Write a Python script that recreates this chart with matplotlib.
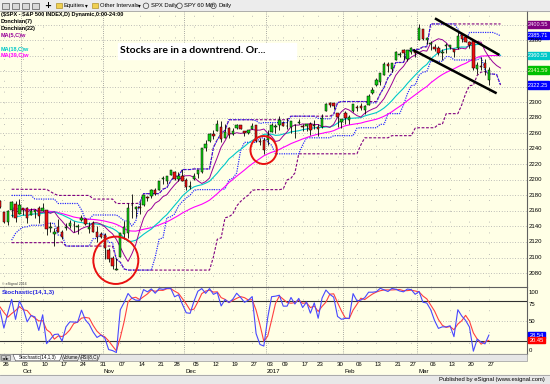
import matplotlib
matplotlib.use('Agg')
import matplotlib.pyplot as plt
from matplotlib.patches import Rectangle, Ellipse, Polygon
import numpy as np
import pandas as pd

W, H = 550, 384
CREAM = '#FFFFE6'

# ---------------- data ----------------
# warm-up bars (before the first visible bar) for the moving averages / channels / stochastic
prior_closes = [2170.84, 2157.03, 2163.79, 2164.25, 2182.87, 2180.89, 2181.74, 2175.49,
                2185.79, 2184.05, 2190.15, 2178.15, 2182.22, 2187.02, 2183.87, 2182.64,
                2186.90, 2175.44, 2172.47, 2169.04, 2180.38, 2176.12, 2170.95, 2170.86,
                2179.98, 2186.48, 2186.16, 2181.30, 2127.81, 2159.04, 2127.02, 2125.77,
                2147.26, 2139.16, 2139.12, 2139.76, 2163.12, 2177.18]
prior_highs = [2186.66, 2179.00, 2187.94, 2183.48, 2182.24, 2175.13, 2173.56, 2184.87,
               2186.57, 2187.87, 2184.94, 2181.99, 2163.30, 2150.47, 2141.33, 2151.31,
               2146.48, 2153.61, 2150.80, 2165.11, 2179.99]
prior_lows = [2171.25, 2169.74, 2160.39, 2170.19, 2170.41, 2161.61, 2157.09, 2173.59,
              2175.10, 2179.07, 2177.85, 2127.81, 2119.12, 2120.27, 2119.90, 2122.36,
              2131.20, 2135.91, 2139.17, 2139.57, 2170.94]

opens = [2173.29, 2158.54, 2146.04, 2161.85, 2168.90, 2156.51, 2164.33, 2163.37, 2155.15, 2158.22,
         2164.19, 2160.39, 2161.35, 2137.67, 2130.26, 2139.68, 2132.95, 2138.31, 2140.81, 2142.51,
         2139.43, 2148.50, 2149.72, 2136.97, 2144.06, 2132.23, 2129.78, 2128.68, 2109.43, 2098.80,
         2083.79, 2100.59, 2129.92, 2131.56, 2167.49, 2162.71, 2165.64, 2168.29, 2177.53, 2178.61,
         2186.85, 2186.43, 2201.56, 2198.55, 2206.27, 2210.21, 2200.76, 2204.97, 2200.17, 2191.12,
         2200.65, 2207.26, 2210.72, 2241.13, 2249.73, 2258.83, 2263.32, 2268.35, 2253.77, 2266.81,
         2259.24, 2266.50, 2270.54, 2262.93, 2260.25, 2266.23, 2270.23, 2249.50, 2251.61, 2251.57,
         2261.60, 2268.18, 2271.14, 2273.59, 2269.72, 2268.60, 2271.14, 2272.74, 2269.14, 2269.14,
         2271.90, 2269.96, 2267.78, 2267.88, 2288.88, 2298.63, 2299.02, 2286.01, 2274.02, 2285.59,
         2276.69, 2288.54, 2294.28, 2295.87, 2289.55, 2296.70, 2312.27, 2321.72, 2326.12, 2335.58,
         2349.64, 2343.01, 2354.91, 2361.11, 2367.50, 2355.73, 2365.23, 2366.08, 2380.13, 2394.75,
         2380.92, 2375.23, 2370.74, 2369.81, 2363.49, 2372.52, 2371.56, 2368.55, 2370.34, 2387.71,
         2383.71, 2378.24, 2379.32, 2343.00, 2345.97, 2350.42, 2329.11]
highs = [2173.75, 2158.54, 2161.13, 2172.40, 2172.67, 2175.30, 2164.41, 2165.46, 2163.95, 2162.93,
         2165.86, 2169.60, 2161.56, 2145.36, 2138.19, 2149.19, 2135.70, 2144.38, 2148.44, 2147.18,
         2142.63, 2154.79, 2151.44, 2145.73, 2147.13, 2140.72, 2133.25, 2131.45, 2111.76, 2102.56,
         2099.07, 2132.00, 2146.87, 2170.10, 2182.30, 2165.92, 2171.36, 2180.84, 2179.22, 2188.06,
         2189.89, 2198.70, 2204.80, 2204.72, 2213.35, 2211.14, 2210.46, 2214.10, 2202.60, 2197.95,
         2209.42, 2212.78, 2241.63, 2251.69, 2259.80, 2264.03, 2277.53, 2276.20, 2272.12, 2268.05,
         2267.47, 2272.56, 2271.23, 2263.18, 2263.79, 2273.82, 2271.31, 2254.51, 2253.58, 2263.88,
         2272.82, 2271.50, 2282.10, 2275.49, 2279.27, 2275.32, 2271.78, 2278.68, 2272.08, 2272.01,
         2274.33, 2276.96, 2271.78, 2284.63, 2299.55, 2300.99, 2299.02, 2286.01, 2279.09, 2289.14,
         2283.97, 2298.31, 2296.18, 2299.40, 2295.91, 2311.08, 2319.23, 2331.58, 2337.58, 2351.30,
         2351.31, 2351.16, 2366.71, 2365.13, 2368.26, 2367.34, 2371.54, 2367.79, 2400.98, 2394.75,
         2383.89, 2378.80, 2375.12, 2373.09, 2369.08, 2376.86, 2374.42, 2368.55, 2390.01, 2388.10,
         2385.71, 2379.55, 2381.93, 2351.81, 2358.92, 2356.22, 2344.90]
lows = [2163.97, 2145.04, 2141.55, 2151.79, 2145.20, 2156.51, 2154.77, 2144.01, 2155.15, 2150.28,
        2144.85, 2160.39, 2128.84, 2132.77, 2114.72, 2132.98, 2124.43, 2135.49, 2138.15, 2133.44,
        2130.09, 2146.91, 2141.93, 2131.59, 2132.52, 2119.36, 2125.53, 2097.85, 2094.00, 2085.23,
        2083.79, 2100.59, 2123.56, 2125.35, 2151.17, 2152.49, 2156.08, 2166.38, 2172.20, 2176.65,
        2180.38, 2186.43, 2194.51, 2194.51, 2206.27, 2200.36, 2198.15, 2198.81, 2187.44, 2188.37,
        2199.97, 2202.21, 2208.93, 2237.57, 2249.23, 2252.37, 2263.32, 2248.44, 2253.77, 2254.24,
        2258.21, 2266.14, 2265.15, 2256.08, 2258.84, 2266.15, 2249.11, 2244.56, 2233.62, 2245.13,
        2261.60, 2260.45, 2264.06, 2268.90, 2265.27, 2260.83, 2254.25, 2271.51, 2262.81, 2263.35,
        2258.41, 2265.01, 2257.02, 2266.68, 2288.88, 2294.08, 2291.62, 2268.04, 2267.21, 2272.44,
        2271.65, 2287.88, 2288.57, 2290.16, 2285.38, 2296.61, 2311.10, 2321.42, 2322.17, 2334.81,
        2338.87, 2339.58, 2354.91, 2358.34, 2355.09, 2352.87, 2361.87, 2358.96, 2380.13, 2380.17,
        2375.39, 2367.98, 2365.51, 2361.01, 2354.54, 2363.04, 2368.52, 2358.18, 2368.94, 2377.18,
        2377.64, 2369.66, 2341.90, 2336.45, 2342.13, 2335.74, 2322.25]
closes = [2164.69, 2146.10, 2159.93, 2171.37, 2151.13, 2168.27, 2161.20, 2150.49, 2159.73, 2160.77,
          2153.74, 2163.66, 2136.73, 2139.18, 2132.55, 2132.98, 2126.50, 2139.60, 2144.29, 2141.34,
          2141.16, 2151.33, 2143.16, 2139.43, 2133.04, 2126.41, 2126.15, 2111.72, 2097.94, 2088.66,
          2085.18, 2131.52, 2139.56, 2163.26, 2167.48, 2164.45, 2164.20, 2180.39, 2176.94, 2187.12,
          2181.90, 2198.18, 2202.94, 2204.72, 2213.35, 2201.72, 2204.66, 2198.81, 2191.08, 2191.95,
          2204.71, 2212.23, 2241.35, 2246.19, 2259.53, 2256.96, 2271.72, 2253.28, 2262.03, 2258.07,
          2262.53, 2270.76, 2265.18, 2260.96, 2263.79, 2268.88, 2249.92, 2249.26, 2238.83, 2257.83,
          2270.75, 2269.00, 2276.98, 2268.90, 2268.90, 2275.32, 2270.44, 2274.64, 2267.89, 2271.89,
          2263.69, 2271.31, 2265.20, 2280.07, 2298.37, 2296.68, 2294.69, 2280.90, 2278.87, 2279.55,
          2280.85, 2297.42, 2292.56, 2293.08, 2294.67, 2307.87, 2316.10, 2328.25, 2337.58, 2349.25,
          2347.22, 2351.16, 2365.38, 2362.82, 2363.81, 2367.34, 2369.75, 2363.64, 2395.96, 2381.92,
          2383.12, 2375.31, 2368.39, 2362.98, 2364.87, 2372.60, 2373.47, 2365.45, 2385.26, 2381.38,
          2378.25, 2373.47, 2344.02, 2348.45, 2345.96, 2343.98, 2341.59]

holidays = ['2016-11-24', '2016-12-26', '2017-01-02', '2017-01-16', '2017-02-20']
dates = pd.bdate_range('2016-09-23', '2017-03-27')
dates = dates[~dates.isin(pd.to_datetime(holidays))]

price_ticks = [2080, 2100, 2120, 2140, 2160, 2180, 2200, 2220, 2240, 2260, 2280, 2300, 2380]
price_tags = [('2400.55', 2400.55, '#800080', '#FFE0FF'),
              ('2385.71', 2385.71, '#0000FF', 'white'),
              ('2360.55', 2360.55, '#00C8C8', 'white'),
              ('2341.59', 2341.59, '#00C000', '#FFFFC0'),
              ('2322.25', 2322.25, '#0000FF', 'white')]
stoch_ticks = [('100', 93), ('75', 75), ('50', 50), ('0', 5)]
stoch_tags = [('28.54', 28.54, '#0000FF'), ('20.45', 20.45, '#FF0000')]

legend_lines = [('($SPX - S&P 500 INDEX,D) Dynamic,0:00-24:00', 'black', 14.8),
                ('Donchian(7)', 'black', 21.5),
                ('Donchian(22)', 'black', 28.8),
                ('MA(5,C)w', '#990099', 35.6),
                ('MA(18,C)w', '#00C8C8', 49.3),
                ('MA(39,C)w', '#FF00FF', 56.0)]

STUDY_SHIFT = 3  # price studies are drawn displaced forward by three bars

# ---------------- indicators ----------------
n = len(closes)
assert len(dates) == n
c_all = np.array(prior_closes + closes, dtype=float)
h_all = np.array(prior_highs + highs, dtype=float)
l_all = np.array(prior_lows + lows, dtype=float)
c_hl = c_all[-len(h_all):]


def wma(a, p):
    w = np.arange(1, p + 1, dtype=float)
    return pd.Series(a).rolling(p).apply(lambda v: np.dot(v, w) / w.sum(), raw=True).values[-n:]


ma5, ma18, ma39 = wma(c_all, 5), wma(c_all, 18), wma(c_all, 39)
dc7_u = pd.Series(h_all).rolling(7).max().values[-n:]
dc7_l = pd.Series(l_all).rolling(7).min().values[-n:]
dc22_u = pd.Series(h_all).rolling(22).max().values[-n:]
dc22_l = pd.Series(l_all).rolling(22).min().values[-n:]
hh14 = pd.Series(h_all).rolling(14).max().values
ll14 = pd.Series(l_all).rolling(14).min().values
k_all = 100 * (c_hl - ll14) / (hh14 - ll14)
d_all = pd.Series(k_all).rolling(3).mean().values
stoch_k = k_all[-n:]
stoch_d = d_all[-n:]

# ---------------- figure ----------------
fig = plt.figure(figsize=(W / 100, H / 100), dpi=100)
fig.patch.set_facecolor(CREAM)


def fx(x):
    return x / W


def fy(y):
    return 1 - y / H


def ftext(x, y, s, **kw):
    kw.setdefault('va', 'center')
    kw.setdefault('family', 'Liberation Sans')
    return fig.text(fx(x), fy(y), s, **kw)


def frect(x0, y0, x1, y1, **kw):
    r = Rectangle((fx(x0), fy(y1)), (x1 - x0) / W, (y1 - y0) / H, transform=fig.transFigure, **kw)
    fig.add_artist(r)
    return r


PX_BAR = 3.88
ax = fig.add_axes([0, fy(287), fx(527), (287 - 11) / H])
sax = fig.add_axes([0, fy(354), fx(527), (354 - 287) / H])
for a in (ax, sax):
    a.set_facecolor(CREAM)
    a.set_xlim(0, 527 / PX_BAR)
    a.set_xticks([])
    a.set_yticks([])
    for s in a.spines.values():
        s.set_visible(False)
    a.spines['right'].set_visible(True)
    a.spines['right'].set_color('#606060')
    a.spines['right'].set_linewidth(0.8)
ax.set_ylim(2300 - (287 - 102.3) / 0.776, 2300 + (102.3 - 11) / 0.776)
sax.set_ylim(-0.3, 102)
for side in ('top', 'bottom'):
    sax.spines[side].set_visible(True)
    sax.spines[side].set_color('#606060')
    sax.spines[side].set_linewidth(0.8)

x = np.arange(n)
xs = x + STUDY_SHIFT

# grid
for p in range(2080, 2420, 20):
    ax.axhline(p, color='#A8A8A8', lw=0.6, ls=(0, (1, 2.2)), zorder=0)
sax.axhline(50, color='#A8A8A8', lw=0.6, ls=(0, (1, 2.2)), zorder=0)
month_first = [i for i in range(1, n) if dates[i].month != dates[i - 1].month]
week_first = [i for i in range(1, n) if dates[i].isocalendar()[1] != dates[i - 1].isocalendar()[1]]
for a in (ax, sax):
    for i in month_first:
        a.axvline(i - 0.5, color='#8C8C8C', lw=0.6, ls=(0, (1, 1.6)), zorder=0)
    for i in week_first:
        a.axvline(i, color='#A8A8A8', lw=0.6, ls=(0, (1, 12)), zorder=0)

# indicators
ax.plot(xs, dc22_u, color='#800080', lw=0.8, ls=(0, (2.5, 1.5)), zorder=3)
ax.plot(xs, dc22_l, color='#800080', lw=0.8, ls=(0, (2.5, 1.5)), zorder=3)
ax.plot(xs, dc7_u, color='#2020FF', lw=0.85, ls=(0, (1, 1)), zorder=3)
ax.plot(xs, dc7_l, color='#2020FF', lw=0.85, ls=(0, (1, 1)), zorder=3)
ax.plot(xs, ma39, color='#FF00FF', lw=0.8, zorder=3)
ax.plot(xs, ma18, color='#00C8C8', lw=0.8, zorder=3)
ax.plot(xs, ma5, color='#990099', lw=0.7, zorder=3)

# candles
o = np.array(opens); c = np.array(closes)
body_b = np.minimum(o, c)
body_h = np.maximum(np.abs(c - o), 0.8)
cols = np.where(c >= o, '#10D010', '#F01010')
ax.vlines(x, lows, highs, color='black', lw=0.6, zorder=4)
ax.bar(x, body_h, bottom=body_b, width=0.62, color=cols, edgecolor='black', lw=0.35, zorder=5)

# annotations: circles and channel lines
ax.add_patch(Ellipse((29.85, 2096.4), 11.6, 61, fill=False, ec='#E81010', lw=1.4, zorder=6))
ax.add_patch(Ellipse((67.95, 2238.5), 6.8, 36, fill=False, ec='#E81010', lw=1.4, zorder=6))
ax.plot([112.1, 128.7], [2408.2, 2361.0], color='black', lw=1.8, zorder=6, solid_capstyle='butt')
ax.plot([106.5, 128.0], [2367.4, 2311.6], color='black', lw=1.8, zorder=6, solid_capstyle='butt')

# stochastic
sax.axhline(80, color='#303030', lw=0.8, zorder=1)
sax.axhline(20, color='#303030', lw=0.8, zorder=1)
sax.plot(x, stoch_d, color='#FF4040', lw=0.8, zorder=3)
sax.plot(x, stoch_k, color='#4848FF', lw=0.8, zorder=4)

# ---------------- chrome ----------------
frect(0, 0, 550, 10.5, color='#ECECEC', zorder=0)
fig.add_artist(plt.Line2D([0, 1], [fy(10.5), fy(10.5)], transform=fig.transFigure, color='#A0A0A0', lw=0.6))
for xi in (2, 12, 22, 32):
    frect(xi, 3, xi + 7, 8.5, fc='#D8D8D8', ec='#303030', lw=0.4)
ftext(48, 5.8, '+', fontsize=6, weight='bold', ha='center', family='DejaVu Sans')
for xf in (56, 92):
    frect(xf, 3.2, xf + 6, 8.2, fc='#F0D050', ec='#A08010', lw=0.4)
ftext(63.5, 5.8, 'Equities', fontsize=4.2, ha='left')
ftext(86, 5.8, '\u25be', fontsize=4, ha='center', family='DejaVu Sans')
ftext(100, 5.8, 'Other Intervals', fontsize=4.2, ha='left')
ftext(139.5, 5.8, '\u25be', fontsize=4, ha='center', family='DejaVu Sans')
for xi, s in ((146, 'SPX Daily'), (179.5, 'SPY 60 Min'), (213.5, 'Daily')):
    fig.add_artist(Ellipse((fx(xi), fy(5.8)), 5.5 / W, 5.5 / H, transform=fig.transFigure,
                           fill=False, ec='#404040', lw=0.5))
    ftext(xi + 5, 5.8, s, fontsize=4.2, ha='left')

for s, col, yy in legend_lines:
    ftext(1, yy, s, fontsize=4.0, weight='bold', color=col, ha='left')

frect(117.5, 42.5, 296, 59.3, color='white', zorder=7)
ftext(119.5, 50.8, 'Stocks are in a downtrend. Or...', fontsize=7.5, weight='bold', ha='left',
      family='Lato', zorder=8)

ftext(2, 283.5, '\u00a9 eSignal 2016', fontsize=2.6, ha='left', color='#404040')
ftext(2, 292.3, 'Stochastic(14,1,3)', fontsize=4.5, weight='bold', color='#2828E0', ha='left')

to_fig = fig.transFigure.inverted()


def y_of(a, v):
    return H * (1 - to_fig.transform(a.transData.transform((0, v)))[1])


for p in price_ticks:
    ftext(529, y_of(ax, p), str(p), fontsize=4.3, ha='left')
for s, v, bg, fg in price_tags:
    yy = y_of(ax, v)
    frect(527.8, yy - 3.6, 548.5, yy + 3.6, color=bg)
    ftext(538.2, yy, s, fontsize=4.1, ha='center', color=fg)
for s, v in stoch_ticks:
    ftext(529, y_of(sax, v), s, fontsize=4.3, ha='left')
for s, v, bg in stoch_tags:
    yy = y_of(sax, v)
    frect(527.8, yy - 3.0, 545, yy + 3.0, color=bg)
    ftext(536.4, yy, s, fontsize=4.1, ha='center', color='white')

frect(0, 354.3, 527, 361, fc='#E6E6E6', ec='#9A9A9A', lw=0.5)
frect(0.8, 355, 5.2, 360.3, fc='#D0D0D0', ec='#505050', lw=0.4)
frect(5.6, 355, 10, 360.3, fc='#D0D0D0', ec='#505050', lw=0.4)
ftext(3, 357.7, '\u25c4', fontsize=2.6, ha='center', family='DejaVu Sans')
ftext(7.8, 357.7, '\u25ba', fontsize=2.6, ha='center', family='DejaVu Sans')
tabs = [(13, 62, 'Stochastic(14,1,3)', 'white'), (61, 80, 'Volume', '#E6E6E6'), (79, 100, 'RSI(8,C)', '#E6E6E6')]
for x0, x1, s, fc in tabs:
    poly = Polygon([(fx(x0), fy(354.5)), (fx(x0 + 2.5), fy(360.8)), (fx(x1 - 2.5), fy(360.8)), (fx(x1), fy(354.5))],
                   closed=True, transform=fig.transFigure, fc=fc, ec='#404040', lw=0.4)
    fig.add_artist(poly)
    ftext((x0 + x1) / 2, 357.8, s, fontsize=3.3, ha='center')

for i in week_first:
    ftext(i * PX_BAR + 2.1, 364.3, dates[i].strftime('%d'), fontsize=4.4, ha='center')
for i in month_first:
    lab = dates[i].strftime('%b') if dates[i].month != 1 else str(dates[i].year)
    ftext(i * PX_BAR - 0.8, 371.2, lab, fontsize=4.4, ha='left')

frect(0, 375.3, 550, 384, color='#E8E8E8')
fig.add_artist(plt.Line2D([0, 1], [fy(375.3), fy(375.3)], transform=fig.transFigure, color='#A0A0A0', lw=0.6))
ftext(545, 379.7, 'Published by eSignal (www.esignal.com)', fontsize=4.2, ha='right')

fig.savefig('out.png', dpi=100, facecolor=fig.get_facecolor())
